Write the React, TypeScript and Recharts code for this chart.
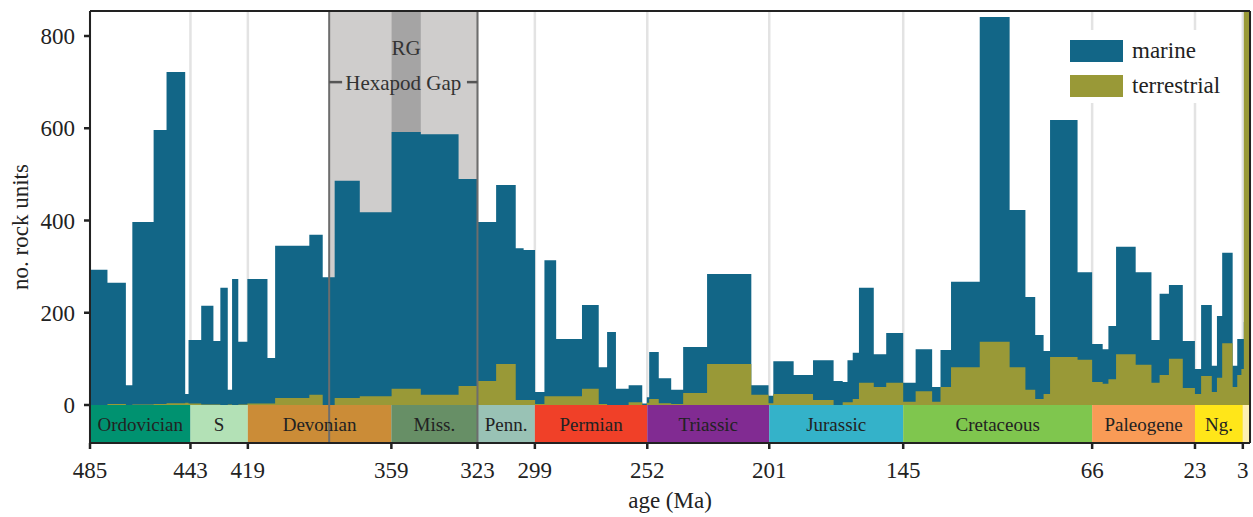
import React from 'react';
import {
  ComposedChart,
  Area,
  XAxis,
  YAxis,
  CartesianGrid,
  ReferenceArea,
  ReferenceLine,
  Legend,
} from 'recharts';

// stage start ages (Ma), each bar runs to the next start
const stageStarts = [
  485, 477.7, 470.0, 467.3, 458.4, 453.0, 445.2,
  443.8, 438.5, 433.4, 430.5, 427.4, 425.6, 423.0,
  419.2, 410.8, 407.6, 393.3, 387.7, 382.7, 372.2,
  358.9, 346.7, 330.9, 323.2, 315.2, 307.0, 303.7,
  298.9, 295.0, 290.1, 279.3, 272.3, 268.8, 265.1, 259.8, 254.1,
  252.2, 251.2, 247.2, 242.0, 237.0, 227.0, 208.5,
  201.3, 199.3, 190.8, 182.7, 174.1, 170.3, 168.3, 166.1, 163.5, 157.3, 152.1,
  145.0, 139.8, 132.9, 129.4, 125.0, 113.0, 100.5, 93.9, 89.8, 86.3, 83.6, 72.1,
  66.0, 61.6, 59.2, 56.0, 47.8, 41.2, 37.8, 33.9, 28.1,
  23.03, 20.44, 15.97, 13.82, 11.63, 7.25, 5.33, 3.6, 2.58,
];

const marine = [
  293, 265, 43, 397, 596, 722, 24,
  141, 215, 139, 254, 33, 273, 137,
  273, 102, 345, 369, 277, 486, 418,
  592, 587, 490, 397, 477, 340, 336,
  28, 314, 143, 217, 82, 158, 35, 43, 3,
  17, 115, 58, 33, 126, 284, 43,
  20, 95, 65, 97, 52, 50, 97, 113, 254, 110, 156,
  48, 121, 39, 119, 267, 841, 423, 234, 152, 117, 618, 288,
  132, 121, 171, 343, 288, 141, 241, 260, 139,
  78, 217, 85, 193, 330, 85, 143, 143, 180,
];

const terrestrial = [
  0, 2, 0, 1, 2, 4, 5,
  3, 1, 1, 0, 1, 0, 1,
  3, 3, 15, 22, 0, 15, 19,
  35, 22, 41, 52, 89, 11, 11,
  2, 19, 19, 35, 2, 0, 0, 6, 0,
  5, 13, 4, 2, 26, 89, 22,
  4, 24, 24, 11, 0, 6, 6, 13, 48, 39, 48,
  7, 30, 7, 39, 82, 137, 82, 33, 13, 24, 104, 98,
  50, 46, 56, 110, 87, 48, 65, 100, 37,
  24, 63, 28, 59, 134, 39, 65, 78, 1500,
];

const periodNames = ['Ordovician', 'S', 'Devonian', 'Miss.', 'Penn.', 'Permian', 'Triassic', 'Jurassic', 'Cretaceous', 'Paleogene', 'Ng.', ''];
const periodBounds = [485, 443, 419, 359, 323, 299, 252, 201, 145, 66, 23, 3, 0];
const periodColors = ['#009270', '#b3e1b6', '#cb8c37', '#678f66', '#99c2b5', '#f04028', '#812b92', '#34b2c9', '#7fc64e', '#f99b56', '#ffe619', '#fdf0b2'];

const ageTicks = [485, 443, 419, 359, 323, 299, 252, 201, 145, 66, 23, 3];
const countTicks = [0, 200, 400, 600, 800];

const MARINE = '#126687';
const TERR = '#999937';
const INK = '#222';
const FONT = '"Liberation Serif", "Times New Roman", serif';
const YMIN = -82.4;
const YMAX = 854.2;

const rows = stageStarts.map((age, i) => ({ age, marine: marine[i], terrestrial: terrestrial[i] }));
rows.push({ age: 0, marine: marine[marine.length - 1], terrestrial: terrestrial[terrestrial.length - 1] });

const legendItems = [
  { name: 'marine', color: MARINE },
  { name: 'terrestrial', color: TERR },
];

const LegendBox = () => (
  <div style={{ background: '#fff', padding: '3px 14px 0 12px', fontFamily: FONT, fontSize: 23, color: INK }}>
    {legendItems.map((it) => (
      <div key={it.name} style={{ display: 'flex', alignItems: 'center', height: 35 }}>
        <span style={{ display: 'inline-block', width: 53, height: 22, background: it.color, marginRight: 9 }} />
        {it.name}
      </div>
    ))}
  </div>
);

export default function App() {
  return (
    <div style={{ position: 'absolute', left: 0, top: 0 }}>
      <ComposedChart
        width={1253}
        height={517}
        data={rows}
        margin={{ top: 11, right: 3, bottom: 0, left: 0 }}
        style={{ fontFamily: FONT }}
      >
        <CartesianGrid horizontal={false} stroke="#e3e3e3" strokeWidth={2.5} />
        <XAxis
          dataKey="age"
          type="number"
          domain={[0, 485]}
          reversed
          allowDataOverflow
          ticks={ageTicks}
          interval={0}
          height={74}
          tick={{ fontSize: 23, fill: INK }}
          tickSize={6}
          tickMargin={13}
          tickLine={{ stroke: INK, strokeWidth: 2.5 }}
          axisLine={{ stroke: INK, strokeWidth: 2 }}
          label={{ value: 'age (Ma)', position: 'insideBottom', offset: 9, fontSize: 23, fill: INK }}
        />
        <YAxis
          type="number"
          domain={[YMIN, YMAX]}
          allowDataOverflow
          ticks={countTicks}
          interval={0}
          width={90}
          tick={{ fontSize: 23, fill: INK }}
          tickSize={6}
          tickMargin={9}
          tickLine={{ stroke: INK, strokeWidth: 2.5 }}
          axisLine={{ stroke: INK, strokeWidth: 2 }}
          label={{ value: 'no. rock units', angle: -90, position: 'insideLeft', offset: 20, fontSize: 23, fill: INK, style: { textAnchor: 'middle' } }}
        />

        {/* Hexapod Gap and Romer's Gap */}
        <ReferenceArea
          x1={385}
          x2={323}
          y1={0}
          y2={YMAX}
          fill="#cfcdcc"
          fillOpacity={1}
          stroke="none"
          label={{ value: 'Hexapod Gap', position: 'insideTop', offset: 64, fontSize: 21, fill: '#333' }}
        />
        <ReferenceArea
          x1={358.9}
          x2={346.7}
          y1={0}
          y2={YMAX}
          fill="#a5a4a4"
          fillOpacity={1}
          stroke="none"
          label={{ value: 'RG', position: 'insideTop', offset: 29, fontSize: 21, fill: '#333' }}
        />
        <ReferenceLine x={385} stroke="#6d6d6d" strokeWidth={2} />
        <ReferenceLine x={323} stroke="#6d6d6d" strokeWidth={2} />
        <ReferenceLine segment={[{ x: 385, y: 700 }, { x: 379.6, y: 700 }]} stroke="#555" strokeWidth={2.5} />
        <ReferenceLine segment={[{ x: 327.4, y: 700 }, { x: 323, y: 700 }]} stroke="#555" strokeWidth={2.5} />

        <Area
          type="stepAfter"
          dataKey="marine"
          name="marine"
          stroke="none"
          fill={MARINE}
          fillOpacity={1}
          dot={false}
          activeDot={false}
          isAnimationActive={false}
        />
        <Area
          type="stepAfter"
          dataKey="terrestrial"
          name="terrestrial"
          stroke="none"
          fill={TERR}
          fillOpacity={1}
          dot={false}
          activeDot={false}
          isAnimationActive={false}
        />

        {/* geological periods */}
        {periodNames.map((name, i) => (
          <ReferenceArea
            key={`p${i}`}
            x1={periodBounds[i]}
            x2={periodBounds[i + 1]}
            y1={YMIN}
            y2={0}
            fill={periodColors[i]}
            fillOpacity={1}
            stroke="none"
            label={name ? { value: name, position: 'center', fontSize: 19, fill: INK } : undefined}
          />
        ))}

        <ReferenceLine y={YMAX} stroke={INK} strokeWidth={2} />
        <ReferenceLine x={0} stroke={INK} strokeWidth={2} />

        <Legend
          layout="horizontal"
          verticalAlign="middle"
          align="center"
          content={() => <LegendBox />}
          wrapperStyle={{ left: 1058, top: 30, width: 'auto' }}
        />
      </ComposedChart>
    </div>
  );
}
